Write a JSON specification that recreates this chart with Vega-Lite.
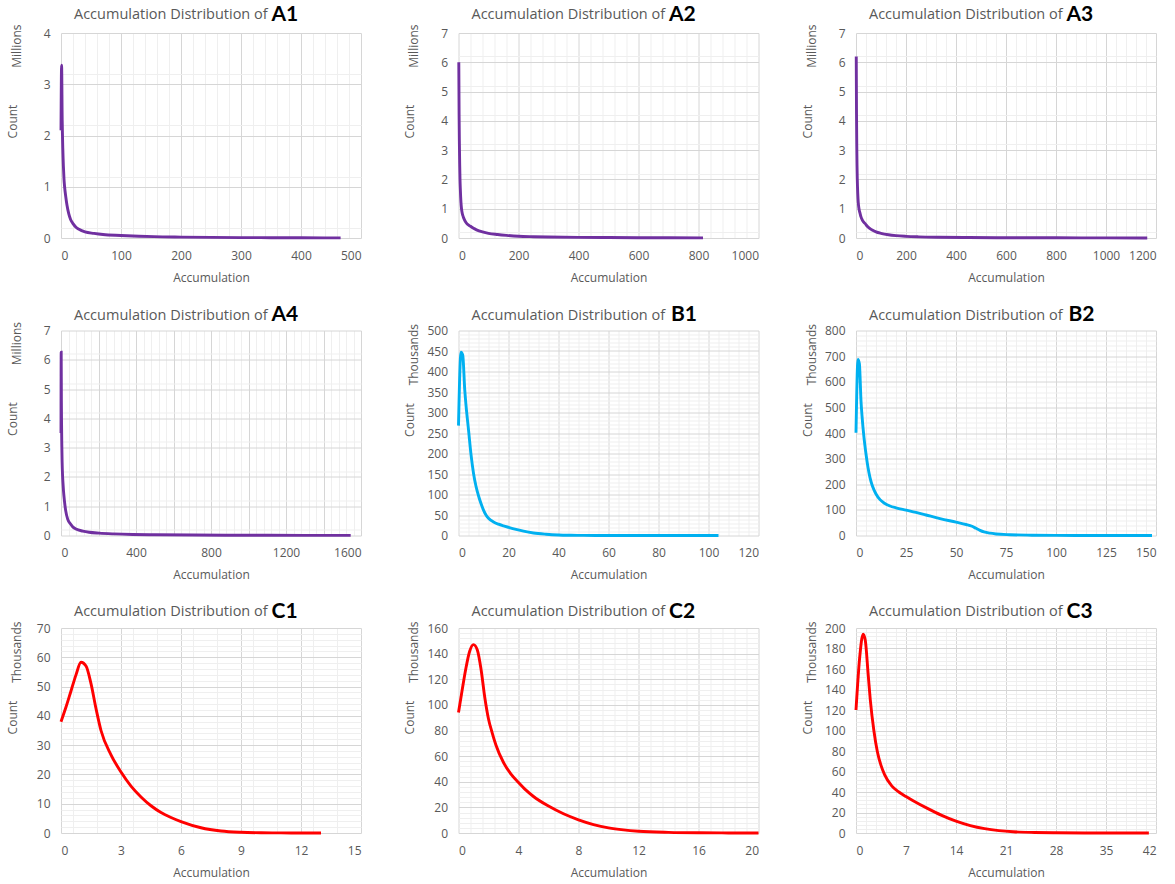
{
  "$schema": "https://vega.github.io/schema/vega-lite/v6.json",
  "background": "white",
  "padding": {"left": 6, "top": 3, "right": 10, "bottom": 10},
  "config": {
    "view": {"stroke": null},
    "font": "Open Sans",
    "numberFormat": "d",
    "axis": {
      "labelFont": "Open Sans",
      "labelFontSize": 12,
      "labelColor": "#595959",
      "titleFont": "Open Sans",
      "titleFontSize": 12,
      "titleFontWeight": "normal",
      "titleColor": "#595959",
      "ticks": false,
      "tickSize": 0,
      "domain": false,
      "gridWidth": 1,
      "titlePadding": 11
    },
    "axisX": {"labelPadding": 12},
    "axisY": {"labelPadding": 11},
    "line": {"strokeWidth": 2.9, "interpolate": "monotone"},
    "title": {
      "font": "Open Sans",
      "fontSize": 14.5,
      "fontWeight": "normal",
      "color": "#595959",
      "anchor": "start",
      "frame": "group",
      "dx": 13,
      "offset": -19.5
    }
  },
  "columns": 3,
  "spacing": {"row": 92.5, "column": 97.5},
  "bounds": "flush",
  "concat": [
    {
      "width": 300, "height": 205,
      "title": "Accumulation Distribution of",
      "data": {"values": [
        {"acc": 0, "count": 2.1}, {"acc": 1, "count": 3.37}, {"acc": 2, "count": 2.3}, {"acc": 3, "count": 1.75},
        {"acc": 4, "count": 1.4}, {"acc": 5, "count": 1.15}, {"acc": 6, "count": 1.0}, {"acc": 8, "count": 0.8},
        {"acc": 10, "count": 0.64}, {"acc": 13, "count": 0.47}, {"acc": 16, "count": 0.36}, {"acc": 20, "count": 0.28},
        {"acc": 25, "count": 0.21}, {"acc": 30, "count": 0.17}, {"acc": 40, "count": 0.12}, {"acc": 55, "count": 0.09},
        {"acc": 70, "count": 0.068}, {"acc": 100, "count": 0.05}, {"acc": 130, "count": 0.035}, {"acc": 155, "count": 0.026},
        {"acc": 200, "count": 0.018}, {"acc": 250, "count": 0.012}, {"acc": 300, "count": 0.008}, {"acc": 350, "count": 0.006},
        {"acc": 400, "count": 0.004}, {"acc": 466, "count": 0.002}
      ]},
      "layer": [
        {
          "mark": {"type": "line", "opacity": 0},
          "encoding": {
            "x": {"field": "acc", "type": "quantitative", "scale": {"domain": [0, 500], "nice": false},
              "axis": {"orient": "top", "grid": true, "values": [20,40,60,80,120,140,160,180,220,240,260,280,320,340,360,380,420,440,460,480], "gridColor": "#efefef", "labels": false,
                "title": "A1", "titleFont": "Lato", "titleFontSize": 21, "titleFontWeight": "bold", "titleColor": "#000000",
                "titleX": 210, "titleY": -13, "titleAlign": "left", "titleBaseline": "alphabetic", "titleAngle": 0}},
            "y": {"field": "count", "type": "quantitative", "scale": {"domain": [0, 4], "nice": false},
              "axis": {"orient": "left", "grid": true, "values": [0.2,0.4,0.6,0.8,1.2,1.4,1.6,1.8,2.2,2.4,2.6,2.8,3.2,3.4,3.6,3.8], "gridColor": "#efefef", "labels": false,
                "title": "Millions", "titleAngle": 270, "titleX": -45, "titleY": -9, "titleAlign": "right", "titleBaseline": "middle"}}
          }
        },
        {
          "mark": {"type": "line", "color": "#7030A0"},
          "encoding": {
            "x": {"field": "acc", "type": "quantitative", "scale": {"domain": [0, 500], "nice": false},
              "axis": {"orient": "bottom", "grid": true, "values": [0,100,200,300,400,500], "gridColor": "#d6d6d6", "title": "Accumulation"}},
            "y": {"field": "count", "type": "quantitative", "scale": {"domain": [0, 4], "nice": false},
              "axis": {"orient": "left", "grid": true, "values": [0,1,2,3,4], "gridColor": "#d6d6d6",
                "title": "Count", "titleAngle": 270, "titleX": -49, "titleY": 88, "titleAlign": "center", "titleBaseline": "middle"}}
          }
        }
      ],
      "resolve": {"axis": {"x": "independent", "y": "independent"}}
    },
    {
      "width": 300, "height": 205,
      "title": "Accumulation Distribution of",
      "data": {"values": [
        {"acc": 1, "count": 6.0}, {"acc": 2, "count": 4.2}, {"acc": 3, "count": 3.2}, {"acc": 4, "count": 2.5},
        {"acc": 5, "count": 2.0}, {"acc": 6, "count": 1.7}, {"acc": 8, "count": 1.25}, {"acc": 10, "count": 1.0},
        {"acc": 13, "count": 0.82}, {"acc": 16, "count": 0.72}, {"acc": 20, "count": 0.62}, {"acc": 25, "count": 0.53},
        {"acc": 30, "count": 0.47}, {"acc": 40, "count": 0.4}, {"acc": 50, "count": 0.33}, {"acc": 60, "count": 0.28},
        {"acc": 80, "count": 0.21}, {"acc": 100, "count": 0.16}, {"acc": 130, "count": 0.12}, {"acc": 160, "count": 0.09},
        {"acc": 200, "count": 0.06}, {"acc": 250, "count": 0.045}, {"acc": 300, "count": 0.035}, {"acc": 400, "count": 0.022},
        {"acc": 500, "count": 0.015}, {"acc": 600, "count": 0.01}, {"acc": 700, "count": 0.006}, {"acc": 815, "count": 0.003}
      ]},
      "layer": [
        {
          "mark": {"type": "line", "opacity": 0},
          "encoding": {
            "x": {"field": "acc", "type": "quantitative", "scale": {"domain": [0, 1000], "nice": false},
              "axis": {"orient": "top", "grid": true, "values": [40,80,120,160,240,280,320,360,440,480,520,560,640,680,720,760,840,880,920,960], "gridColor": "#efefef", "labels": false,
                "title": "A2", "titleFont": "Lato", "titleFontSize": 21, "titleFontWeight": "bold", "titleColor": "#000000",
                "titleX": 210, "titleY": -13, "titleAlign": "left", "titleBaseline": "alphabetic", "titleAngle": 0}},
            "y": {"field": "count", "type": "quantitative", "scale": {"domain": [0, 7], "nice": false},
              "axis": {"orient": "left", "grid": true, "values": [0.2,0.4,0.6,0.8,1.2,1.4,1.6,1.8,2.2,2.4,2.6,2.8,3.2,3.4,3.6,3.8,4.2,4.4,4.6,4.8,5.2,5.4,5.6,5.8,6.2,6.4,6.6,6.8], "gridColor": "#efefef", "labels": false,
                "title": "Millions", "titleAngle": 270, "titleX": -45, "titleY": -9, "titleAlign": "right", "titleBaseline": "middle"}}
          }
        },
        {
          "mark": {"type": "line", "color": "#7030A0"},
          "encoding": {
            "x": {"field": "acc", "type": "quantitative", "scale": {"domain": [0, 1000], "nice": false},
              "axis": {"orient": "bottom", "grid": true, "values": [0,200,400,600,800,1000], "gridColor": "#d6d6d6", "title": "Accumulation"}},
            "y": {"field": "count", "type": "quantitative", "scale": {"domain": [0, 7], "nice": false},
              "axis": {"orient": "left", "grid": true, "values": [0,1,2,3,4,5,6,7], "gridColor": "#d6d6d6",
                "title": "Count", "titleAngle": 270, "titleX": -49, "titleY": 88, "titleAlign": "center", "titleBaseline": "middle"}}
          }
        }
      ],
      "resolve": {"axis": {"x": "independent", "y": "independent"}}
    },
    {
      "width": 300, "height": 205,
      "title": "Accumulation Distribution of",
      "data": {"values": [
        {"acc": 1, "count": 6.2}, {"acc": 2, "count": 4.3}, {"acc": 3, "count": 3.2}, {"acc": 4, "count": 2.5},
        {"acc": 5, "count": 2.05}, {"acc": 6, "count": 1.75}, {"acc": 8, "count": 1.35}, {"acc": 10, "count": 1.12},
        {"acc": 13, "count": 0.95}, {"acc": 16, "count": 0.85}, {"acc": 20, "count": 0.72}, {"acc": 25, "count": 0.62},
        {"acc": 30, "count": 0.55}, {"acc": 36, "count": 0.5}, {"acc": 45, "count": 0.4}, {"acc": 63, "count": 0.28},
        {"acc": 80, "count": 0.21}, {"acc": 100, "count": 0.16}, {"acc": 130, "count": 0.11}, {"acc": 160, "count": 0.08},
        {"acc": 200, "count": 0.057}, {"acc": 250, "count": 0.04}, {"acc": 330, "count": 0.025}, {"acc": 450, "count": 0.015},
        {"acc": 600, "count": 0.01}, {"acc": 800, "count": 0.006}, {"acc": 1000, "count": 0.004}, {"acc": 1165, "count": 0.002}
      ]},
      "layer": [
        {
          "mark": {"type": "line", "opacity": 0},
          "encoding": {
            "x": {"field": "acc", "type": "quantitative", "scale": {"domain": [0, 1200], "nice": false},
              "axis": {"orient": "top", "grid": true, "values": [40,80,120,160,240,280,320,360,440,480,520,560,640,680,720,760,840,880,920,960,1040,1080,1120,1160], "gridColor": "#efefef", "labels": false,
                "title": "A3", "titleFont": "Lato", "titleFontSize": 21, "titleFontWeight": "bold", "titleColor": "#000000",
                "titleX": 210, "titleY": -13, "titleAlign": "left", "titleBaseline": "alphabetic", "titleAngle": 0}},
            "y": {"field": "count", "type": "quantitative", "scale": {"domain": [0, 7], "nice": false},
              "axis": {"orient": "left", "grid": true, "values": [0.2,0.4,0.6,0.8,1.2,1.4,1.6,1.8,2.2,2.4,2.6,2.8,3.2,3.4,3.6,3.8,4.2,4.4,4.6,4.8,5.2,5.4,5.6,5.8,6.2,6.4,6.6,6.8], "gridColor": "#efefef", "labels": false,
                "title": "Millions", "titleAngle": 270, "titleX": -45, "titleY": -9, "titleAlign": "right", "titleBaseline": "middle"}}
          }
        },
        {
          "mark": {"type": "line", "color": "#7030A0"},
          "encoding": {
            "x": {"field": "acc", "type": "quantitative", "scale": {"domain": [0, 1200], "nice": false},
              "axis": {"orient": "bottom", "grid": true, "values": [0,200,400,600,800,1000,1200], "gridColor": "#d6d6d6", "title": "Accumulation"}},
            "y": {"field": "count", "type": "quantitative", "scale": {"domain": [0, 7], "nice": false},
              "axis": {"orient": "left", "grid": true, "values": [0,1,2,3,4,5,6,7], "gridColor": "#d6d6d6",
                "title": "Count", "titleAngle": 270, "titleX": -49, "titleY": 88, "titleAlign": "center", "titleBaseline": "middle"}}
          }
        }
      ],
      "resolve": {"axis": {"x": "independent", "y": "independent"}}
    },
    {
      "width": 300, "height": 205,
      "title": "Accumulation Distribution of",
      "data": {"values": [
        {"acc": 0, "count": 3.5}, {"acc": 1, "count": 6.26}, {"acc": 2, "count": 4.6}, {"acc": 3, "count": 3.8},
        {"acc": 4, "count": 3.2}, {"acc": 6, "count": 2.5}, {"acc": 8, "count": 2.1}, {"acc": 10, "count": 1.85},
        {"acc": 13, "count": 1.55}, {"acc": 18, "count": 1.2}, {"acc": 25, "count": 0.85}, {"acc": 36, "count": 0.55},
        {"acc": 50, "count": 0.4}, {"acc": 62, "count": 0.3}, {"acc": 80, "count": 0.22}, {"acc": 116, "count": 0.15},
        {"acc": 150, "count": 0.11}, {"acc": 204, "count": 0.08}, {"acc": 280, "count": 0.055}, {"acc": 382, "count": 0.035},
        {"acc": 500, "count": 0.025}, {"acc": 700, "count": 0.015}, {"acc": 900, "count": 0.01}, {"acc": 1100, "count": 0.007},
        {"acc": 1300, "count": 0.005}, {"acc": 1545, "count": 0.003}
      ]},
      "layer": [
        {
          "mark": {"type": "line", "opacity": 0},
          "encoding": {
            "x": {"field": "acc", "type": "quantitative", "scale": {"domain": [0, 1600], "nice": false},
              "axis": {"orient": "top", "grid": true, "values": [40,80,120,160,240,280,320,360,440,480,520,560,640,680,720,760,840,880,920,960,1040,1080,1120,1160,1240,1280,1320,1360,1440,1480,1520,1560], "gridColor": "#efefef", "labels": false,
                "title": "A4", "titleFont": "Lato", "titleFontSize": 21, "titleFontWeight": "bold", "titleColor": "#000000",
                "titleX": 210, "titleY": -10, "titleAlign": "left", "titleBaseline": "alphabetic", "titleAngle": 0}},
            "y": {"field": "count", "type": "quantitative", "scale": {"domain": [0, 7], "nice": false},
              "axis": {"orient": "left", "grid": true, "values": [0.2,0.4,0.6,0.8,1.2,1.4,1.6,1.8,2.2,2.4,2.6,2.8,3.2,3.4,3.6,3.8,4.2,4.4,4.6,4.8,5.2,5.4,5.6,5.8,6.2,6.4,6.6,6.8], "gridColor": "#efefef", "labels": false,
                "title": "Millions", "titleAngle": 270, "titleX": -45, "titleY": -9, "titleAlign": "right", "titleBaseline": "middle"}}
          }
        },
        {
          "mark": {"type": "line", "color": "#7030A0"},
          "encoding": {
            "x": {"field": "acc", "type": "quantitative", "scale": {"domain": [0, 1600], "nice": false},
              "axis": {"orient": "bottom", "grid": true, "values": [0,200,400,600,800,1000,1200,1400,1600], "gridColor": "#d6d6d6", "title": "Accumulation"}},
            "y": {"field": "count", "type": "quantitative", "scale": {"domain": [0, 7], "nice": false},
              "axis": {"orient": "left", "grid": true, "values": [0,1,2,3,4,5,6,7], "gridColor": "#d6d6d6",
                "title": "Count", "titleAngle": 270, "titleX": -49, "titleY": 88, "titleAlign": "center", "titleBaseline": "middle"}}
          }
        }
      ],
      "resolve": {"axis": {"x": "independent", "y": "independent"}}
    },
    {
      "width": 300, "height": 205,
      "title": "Accumulation Distribution of",
      "data": {"values": [
        {"acc": 0, "count": 268}, {"acc": 1, "count": 447}, {"acc": 1.7, "count": 440}, {"acc": 2.5, "count": 355},
        {"acc": 3, "count": 318}, {"acc": 4, "count": 258}, {"acc": 5, "count": 198}, {"acc": 6, "count": 152},
        {"acc": 7, "count": 120}, {"acc": 8, "count": 97}, {"acc": 9, "count": 78}, {"acc": 10, "count": 62},
        {"acc": 11, "count": 50}, {"acc": 12, "count": 42}, {"acc": 14, "count": 33}, {"acc": 16, "count": 27.5},
        {"acc": 18, "count": 23.5}, {"acc": 20, "count": 20}, {"acc": 23, "count": 15}, {"acc": 26, "count": 10.5},
        {"acc": 30, "count": 6}, {"acc": 35, "count": 3}, {"acc": 40, "count": 1.2}, {"acc": 45, "count": 0.5},
        {"acc": 50, "count": 0.2}, {"acc": 60, "count": 0.05}, {"acc": 80, "count": 0.01}, {"acc": 104, "count": 0}
      ]},
      "layer": [
        {
          "mark": {"type": "line", "opacity": 0},
          "encoding": {
            "x": {"field": "acc", "type": "quantitative", "scale": {"domain": [0, 120], "nice": false},
              "axis": {"orient": "top", "grid": true, "values": [4,8,12,16,24,28,32,36,44,48,52,56,64,68,72,76,84,88,92,96,104,108,112,116], "gridColor": "#efefef", "labels": false,
                "title": "B1", "titleFont": "Lato", "titleFontSize": 21, "titleFontWeight": "bold", "titleColor": "#000000",
                "titleX": 212, "titleY": -10, "titleAlign": "left", "titleBaseline": "alphabetic", "titleAngle": 0}},
            "y": {"field": "count", "type": "quantitative", "scale": {"domain": [0, 500], "nice": false},
              "axis": {"orient": "left", "grid": true, "values": [10,20,30,40,60,70,80,90,110,120,130,140,160,170,180,190,210,220,230,240,260,270,280,290,310,320,330,340,360,370,380,390,410,420,430,440,460,470,480,490], "gridColor": "#efefef", "labels": false,
                "title": "Thousands", "titleAngle": 270, "titleX": -45, "titleY": -7, "titleAlign": "right", "titleBaseline": "middle"}}
          }
        },
        {
          "mark": {"type": "line", "color": "#00B0F0"},
          "encoding": {
            "x": {"field": "acc", "type": "quantitative", "scale": {"domain": [0, 120], "nice": false},
              "axis": {"orient": "bottom", "grid": true, "values": [0,20,40,60,80,100,120], "gridColor": "#d6d6d6", "title": "Accumulation"}},
            "y": {"field": "count", "type": "quantitative", "scale": {"domain": [0, 500], "nice": false},
              "axis": {"orient": "left", "grid": true, "values": [0,50,100,150,200,250,300,350,400,450,500], "gridColor": "#d6d6d6",
                "title": "Count", "titleAngle": 270, "titleX": -49, "titleY": 89, "titleAlign": "center", "titleBaseline": "middle"}}
          }
        }
      ],
      "resolve": {"axis": {"x": "independent", "y": "independent"}}
    },
    {
      "width": 300, "height": 205,
      "title": "Accumulation Distribution of",
      "data": {"values": [
        {"acc": 0, "count": 401}, {"acc": 1, "count": 687}, {"acc": 1.7, "count": 670}, {"acc": 2.5, "count": 525},
        {"acc": 3, "count": 468}, {"acc": 4, "count": 382}, {"acc": 5, "count": 318}, {"acc": 6, "count": 265},
        {"acc": 7, "count": 226}, {"acc": 8, "count": 198}, {"acc": 9, "count": 178}, {"acc": 10, "count": 162},
        {"acc": 12, "count": 140}, {"acc": 14, "count": 127}, {"acc": 17, "count": 115}, {"acc": 20, "count": 108},
        {"acc": 25, "count": 99}, {"acc": 30, "count": 90}, {"acc": 35, "count": 80}, {"acc": 42, "count": 66},
        {"acc": 50, "count": 52}, {"acc": 55, "count": 43}, {"acc": 58, "count": 36}, {"acc": 60, "count": 28},
        {"acc": 62, "count": 20}, {"acc": 64, "count": 14}, {"acc": 67, "count": 9}, {"acc": 70, "count": 6},
        {"acc": 77, "count": 3}, {"acc": 88, "count": 1.2}, {"acc": 100, "count": 0.4}, {"acc": 120, "count": 0.1},
        {"acc": 148, "count": 0}
      ]},
      "layer": [
        {
          "mark": {"type": "line", "opacity": 0},
          "encoding": {
            "x": {"field": "acc", "type": "quantitative", "scale": {"domain": [0, 150], "nice": false},
              "axis": {"orient": "top", "grid": true, "values": [5,10,15,20,30,35,40,45,55,60,65,70,80,85,90,95,105,110,115,120,130,135,140,145], "gridColor": "#efefef", "labels": false,
                "title": "B2", "titleFont": "Lato", "titleFontSize": 21, "titleFontWeight": "bold", "titleColor": "#000000",
                "titleX": 212, "titleY": -10, "titleAlign": "left", "titleBaseline": "alphabetic", "titleAngle": 0}},
            "y": {"field": "count", "type": "quantitative", "scale": {"domain": [0, 800], "nice": false},
              "axis": {"orient": "left", "grid": true, "values": [20,40,60,80,120,140,160,180,220,240,260,280,320,340,360,380,420,440,460,480,520,540,560,580,620,640,660,680,720,740,760,780], "gridColor": "#efefef", "labels": false,
                "title": "Thousands", "titleAngle": 270, "titleX": -45, "titleY": -7, "titleAlign": "right", "titleBaseline": "middle"}}
          }
        },
        {
          "mark": {"type": "line", "color": "#00B0F0"},
          "encoding": {
            "x": {"field": "acc", "type": "quantitative", "scale": {"domain": [0, 150], "nice": false},
              "axis": {"orient": "bottom", "grid": true, "values": [0,25,50,75,100,125,150], "gridColor": "#d6d6d6", "title": "Accumulation"}},
            "y": {"field": "count", "type": "quantitative", "scale": {"domain": [0, 800], "nice": false},
              "axis": {"orient": "left", "grid": true, "values": [0,100,200,300,400,500,600,700,800], "gridColor": "#d6d6d6",
                "title": "Count", "titleAngle": 270, "titleX": -49, "titleY": 89, "titleAlign": "center", "titleBaseline": "middle"}}
          }
        }
      ],
      "resolve": {"axis": {"x": "independent", "y": "independent"}}
    },
    {
      "width": 300, "height": 205,
      "title": "Accumulation Distribution of",
      "data": {"values": [
        {"acc": 0, "count": 38}, {"acc": 0.25, "count": 43}, {"acc": 0.5, "count": 48.5}, {"acc": 0.75, "count": 54},
        {"acc": 1, "count": 58.3}, {"acc": 1.25, "count": 57}, {"acc": 1.5, "count": 51}, {"acc": 1.75, "count": 42.5},
        {"acc": 2, "count": 35}, {"acc": 2.5, "count": 26.7}, {"acc": 3, "count": 20.8}, {"acc": 3.5, "count": 16},
        {"acc": 4, "count": 12.3}, {"acc": 4.5, "count": 9.3}, {"acc": 5, "count": 7}, {"acc": 5.5, "count": 5.3},
        {"acc": 6, "count": 3.9}, {"acc": 7, "count": 1.8}, {"acc": 8, "count": 0.7}, {"acc": 9, "count": 0.25},
        {"acc": 10, "count": 0.08}, {"acc": 11, "count": 0.03}, {"acc": 12, "count": 0.01}, {"acc": 13, "count": 0}
      ]},
      "layer": [
        {
          "mark": {"type": "line", "opacity": 0},
          "encoding": {
            "x": {"field": "acc", "type": "quantitative", "scale": {"domain": [0, 15], "nice": false},
              "axis": {"orient": "top", "grid": true, "values": [0.6,1.2,1.8,2.4,3.6,4.2,4.8,5.4,6.6,7.2,7.8,8.4,9.6,10.2,10.8,11.4,12.6,13.2,13.8,14.4], "gridColor": "#efefef", "labels": false,
                "title": "C1", "titleFont": "Lato", "titleFontSize": 21, "titleFontWeight": "bold", "titleColor": "#000000",
                "titleX": 210, "titleY": -11, "titleAlign": "left", "titleBaseline": "alphabetic", "titleAngle": 0}},
            "y": {"field": "count", "type": "quantitative", "scale": {"domain": [0, 70], "nice": false},
              "axis": {"orient": "left", "grid": true, "values": [2,4,6,8,12,14,16,18,22,24,26,28,32,34,36,38,42,44,46,48,52,54,56,58,62,64,66,68], "gridColor": "#efefef", "labels": false,
                "title": "Thousands", "titleAngle": 270, "titleX": -45, "titleY": -7, "titleAlign": "right", "titleBaseline": "middle"}}
          }
        },
        {
          "mark": {"type": "line", "color": "#FF0000"},
          "encoding": {
            "x": {"field": "acc", "type": "quantitative", "scale": {"domain": [0, 15], "nice": false},
              "axis": {"orient": "bottom", "grid": true, "values": [0,3,6,9,12,15], "gridColor": "#d6d6d6", "title": "Accumulation"}},
            "y": {"field": "count", "type": "quantitative", "scale": {"domain": [0, 70], "nice": false},
              "axis": {"orient": "left", "grid": true, "values": [0,10,20,30,40,50,60,70], "gridColor": "#d6d6d6",
                "title": "Count", "titleAngle": 270, "titleX": -49, "titleY": 89, "titleAlign": "center", "titleBaseline": "middle"}}
          }
        }
      ],
      "resolve": {"axis": {"x": "independent", "y": "independent"}}
    },
    {
      "width": 300, "height": 205,
      "title": "Accumulation Distribution of",
      "data": {"values": [
        {"acc": 0, "count": 94}, {"acc": 0.25, "count": 112}, {"acc": 0.5, "count": 129}, {"acc": 0.75, "count": 142},
        {"acc": 1, "count": 147}, {"acc": 1.25, "count": 143}, {"acc": 1.5, "count": 128}, {"acc": 1.75, "count": 106},
        {"acc": 2, "count": 89}, {"acc": 2.25, "count": 78}, {"acc": 2.5, "count": 68.5}, {"acc": 3, "count": 55},
        {"acc": 3.5, "count": 46}, {"acc": 4, "count": 39.5}, {"acc": 4.5, "count": 33.5}, {"acc": 5, "count": 28.5},
        {"acc": 6, "count": 21}, {"acc": 7, "count": 15}, {"acc": 8, "count": 10.3}, {"acc": 9, "count": 6.6},
        {"acc": 10, "count": 4}, {"acc": 11, "count": 2.4}, {"acc": 12, "count": 1.4}, {"acc": 14, "count": 0.5},
        {"acc": 16, "count": 0.15}, {"acc": 18, "count": 0.05}, {"acc": 20, "count": 0}
      ]},
      "layer": [
        {
          "mark": {"type": "line", "opacity": 0},
          "encoding": {
            "x": {"field": "acc", "type": "quantitative", "scale": {"domain": [0, 20], "nice": false},
              "axis": {"orient": "top", "grid": true, "values": [0.8,1.6,2.4,3.2,4.8,5.6,6.4,7.2,8.8,9.6,10.4,11.2,12.8,13.6,14.4,15.2,16.8,17.6,18.4,19.2], "gridColor": "#efefef", "labels": false,
                "title": "C2", "titleFont": "Lato", "titleFontSize": 21, "titleFontWeight": "bold", "titleColor": "#000000",
                "titleX": 210, "titleY": -11, "titleAlign": "left", "titleBaseline": "alphabetic", "titleAngle": 0}},
            "y": {"field": "count", "type": "quantitative", "scale": {"domain": [0, 160], "nice": false},
              "axis": {"orient": "left", "grid": true, "values": [4,8,12,16,24,28,32,36,44,48,52,56,64,68,72,76,84,88,92,96,104,108,112,116,124,128,132,136,144,148,152,156], "gridColor": "#efefef", "labels": false,
                "title": "Thousands", "titleAngle": 270, "titleX": -45, "titleY": -7, "titleAlign": "right", "titleBaseline": "middle"}}
          }
        },
        {
          "mark": {"type": "line", "color": "#FF0000"},
          "encoding": {
            "x": {"field": "acc", "type": "quantitative", "scale": {"domain": [0, 20], "nice": false},
              "axis": {"orient": "bottom", "grid": true, "values": [0,4,8,12,16,20], "gridColor": "#d6d6d6", "title": "Accumulation"}},
            "y": {"field": "count", "type": "quantitative", "scale": {"domain": [0, 160], "nice": false},
              "axis": {"orient": "left", "grid": true, "values": [0,20,40,60,80,100,120,140,160], "gridColor": "#d6d6d6",
                "title": "Count", "titleAngle": 270, "titleX": -49, "titleY": 89, "titleAlign": "center", "titleBaseline": "middle"}}
          }
        }
      ],
      "resolve": {"axis": {"x": "independent", "y": "independent"}}
    },
    {
      "width": 300, "height": 205,
      "title": "Accumulation Distribution of",
      "data": {"values": [
        {"acc": 0, "count": 120}, {"acc": 0.5, "count": 170}, {"acc": 1, "count": 194}, {"acc": 1.3, "count": 188},
        {"acc": 1.7, "count": 155}, {"acc": 2, "count": 130}, {"acc": 2.5, "count": 100}, {"acc": 3, "count": 79},
        {"acc": 3.5, "count": 66}, {"acc": 4, "count": 57}, {"acc": 5, "count": 46}, {"acc": 6, "count": 40},
        {"acc": 7, "count": 35.6}, {"acc": 8, "count": 31.5}, {"acc": 10, "count": 24}, {"acc": 12, "count": 17.2},
        {"acc": 14, "count": 11.5}, {"acc": 16, "count": 7.2}, {"acc": 18, "count": 4.2}, {"acc": 20, "count": 2.3},
        {"acc": 22, "count": 1.2}, {"acc": 25, "count": 0.5}, {"acc": 28, "count": 0.2}, {"acc": 32, "count": 0.05},
        {"acc": 36, "count": 0.02}, {"acc": 41, "count": 0}
      ]},
      "layer": [
        {
          "mark": {"type": "line", "opacity": 0},
          "encoding": {
            "x": {"field": "acc", "type": "quantitative", "scale": {"domain": [0, 42], "nice": false},
              "axis": {"orient": "top", "grid": true, "values": [1.4,2.8,4.2,5.6,8.4,9.8,11.2,12.6,15.4,16.8,18.2,19.6,22.4,23.8,25.2,26.6,29.4,30.8,32.2,33.6,36.4,37.8,39.2,40.6], "gridColor": "#efefef", "labels": false,
                "title": "C3", "titleFont": "Lato", "titleFontSize": 21, "titleFontWeight": "bold", "titleColor": "#000000",
                "titleX": 210, "titleY": -11, "titleAlign": "left", "titleBaseline": "alphabetic", "titleAngle": 0}},
            "y": {"field": "count", "type": "quantitative", "scale": {"domain": [0, 200], "nice": false},
              "axis": {"orient": "left", "grid": true, "values": [4,8,12,16,24,28,32,36,44,48,52,56,64,68,72,76,84,88,92,96,104,108,112,116,124,128,132,136,144,148,152,156,164,168,172,176,184,188,192,196], "gridColor": "#efefef", "labels": false,
                "title": "Thousands", "titleAngle": 270, "titleX": -45, "titleY": -7, "titleAlign": "right", "titleBaseline": "middle"}}
          }
        },
        {
          "mark": {"type": "line", "color": "#FF0000"},
          "encoding": {
            "x": {"field": "acc", "type": "quantitative", "scale": {"domain": [0, 42], "nice": false},
              "axis": {"orient": "bottom", "grid": true, "values": [0,7,14,21,28,35,42], "gridColor": "#d6d6d6", "title": "Accumulation"}},
            "y": {"field": "count", "type": "quantitative", "scale": {"domain": [0, 200], "nice": false},
              "axis": {"orient": "left", "grid": true, "values": [0,20,40,60,80,100,120,140,160,180,200], "gridColor": "#d6d6d6",
                "title": "Count", "titleAngle": 270, "titleX": -49, "titleY": 89, "titleAlign": "center", "titleBaseline": "middle"}}
          }
        }
      ],
      "resolve": {"axis": {"x": "independent", "y": "independent"}}
    }
  ]
}
